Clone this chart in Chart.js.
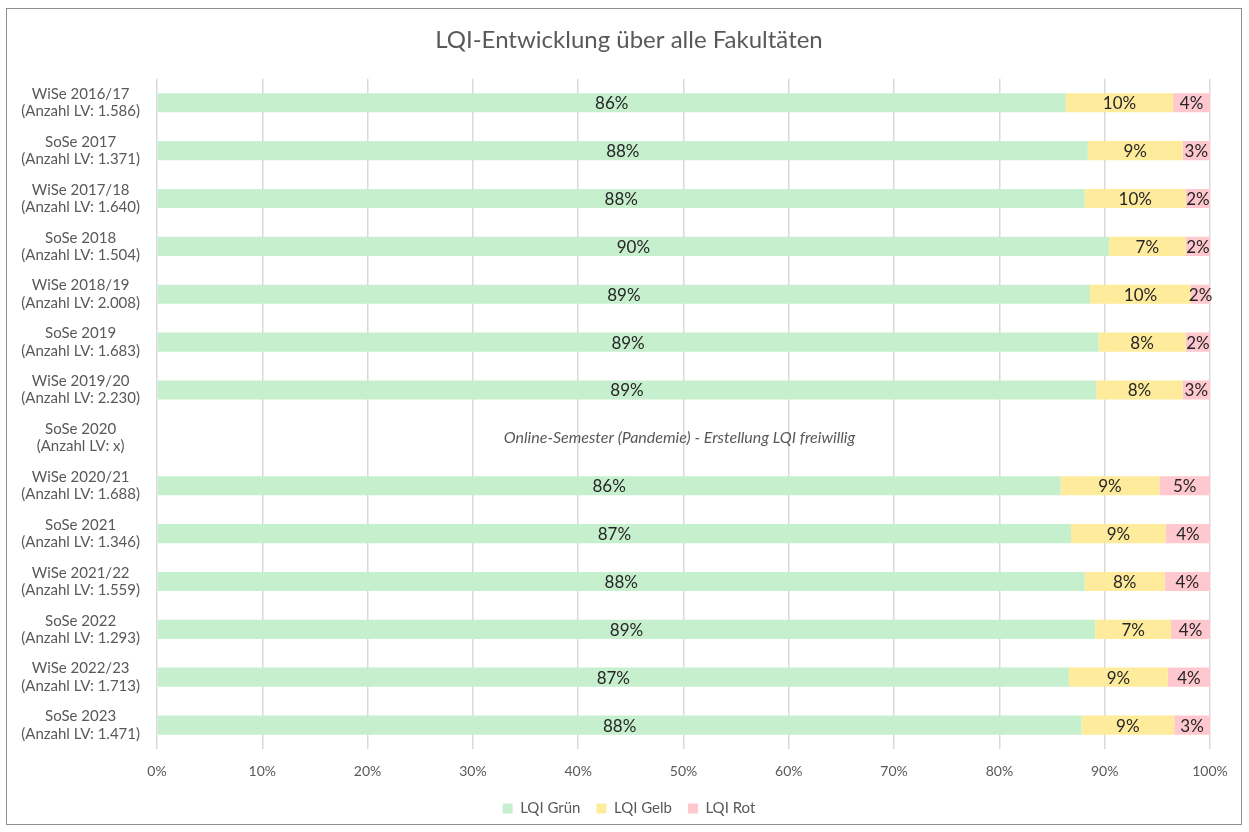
<!DOCTYPE html>
<html>
<head>
<meta charset="utf-8">
<script src="https://cdn.jsdelivr.net/npm/chart.js@4"></script>
<style>
  html, body { margin: 0; padding: 0; background: #fff; }
  #wrap { position: relative; width: 1249px; height: 832px; }
  #frame { position: absolute; left: 6px; top: 8px; width: 1236px; height: 817px; border: 1px solid #8f8f8f; box-sizing: border-box; pointer-events: none; }
  canvas { position: absolute; left: 0; top: 0; }
</style>
</head>
<body>
<div id="wrap">
  <canvas id="lqi-chart" width="1249" height="832"></canvas>
  <div id="frame"></div>
</div>
<script>
// Semester labels (two lines each)
const semesters = [
    ['WiSe 2016/17', '(Anzahl LV: 1.586)'],
    ['SoSe 2017', '(Anzahl LV: 1.371)'],
    ['WiSe 2017/18', '(Anzahl LV: 1.640)'],
    ['SoSe 2018', '(Anzahl LV: 1.504)'],
    ['WiSe 2018/19', '(Anzahl LV: 2.008)'],
    ['SoSe 2019', '(Anzahl LV: 1.683)'],
    ['WiSe 2019/20', '(Anzahl LV: 2.230)'],
    ['SoSe 2020', '(Anzahl LV: x)'],
    ['WiSe 2020/21', '(Anzahl LV: 1.688)'],
    ['SoSe 2021', '(Anzahl LV: 1.346)'],
    ['WiSe 2021/22', '(Anzahl LV: 1.559)'],
    ['SoSe 2022', '(Anzahl LV: 1.293)'],
    ['WiSe 2022/23', '(Anzahl LV: 1.713)'],
    ['SoSe 2023', '(Anzahl LV: 1.471)'],
];

// shares in percent
const gruen = [86.3, 88.4, 88.1, 90.4, 88.6, 89.4, 89.2, null, 85.8, 86.8, 88.1, 89.1, 86.6, 87.8];
const gelb  = [10.2, 9.0, 9.6, 7.3, 9.6, 8.3, 8.2, null, 9.4, 9.0, 7.6, 7.2, 9.4, 8.8];
const rot   = [3.5, 2.6, 2.3, 2.3, 1.8, 2.3, 2.6, null, 4.8, 4.2, 4.3, 3.7, 4.0, 3.4];

const xTicks = [0, 10, 20, 30, 40, 50, 60, 70, 80, 90, 100];

const pandemieIndex = 7;
const pandemieText = 'Online-Semester (Pandemie) - Erstellung LQI freiwillig';

const FONT = 'Lato, "Open Sans", sans-serif';
const GREY = '#595959';

// value labels in the middle of every bar piece + the note for SoSe 2020
const barLabels = {
    id: 'barLabels',
    afterDatasetsDraw(chart) {
        const ctx = chart.ctx;
        ctx.save();
        ctx.font = '17px ' + FONT;
        ctx.fillStyle = '#262626';
        ctx.textAlign = 'center';
        ctx.textBaseline = 'middle';
        chart.data.datasets.forEach((ds, i) => {
            chart.getDatasetMeta(i).data.forEach((bar, j) => {
                const v = ds.data[j];
                if (v == null) return;
                ctx.fillText(Math.round(v) + '%', (bar.x + bar.base) / 2, bar.y + 1);
            });
        });

        const area = chart.chartArea;
        const y = chart.scales.y.getPixelForValue(pandemieIndex);
        ctx.font = 'italic 16px ' + FONT;
        ctx.fillStyle = GREY;
        ctx.fillText(pandemieText, (area.left + area.right) / 2 - 4, y);
        ctx.restore();
    }
};

new Chart(document.getElementById('lqi-chart'), {
    type: 'bar',
    data: {
        labels: semesters,
        datasets: [
            { label: 'LQI Grün', data: gruen, backgroundColor: '#C6EFCE' },
            { label: 'LQI Gelb', data: gelb, backgroundColor: '#FFEB9C' },
            { label: 'LQI Rot', data: rot, backgroundColor: '#FFC7CE' },
        ],
    },
    options: {
        indexAxis: 'y',
        responsive: false,
        animation: false,
        barPercentage: 1,
        categoryPercentage: 0.4,
        layout: {
            padding: { top: 0, right: 0, bottom: 6, left: 9 },
        },
        scales: {
            x: {
                stacked: true,
                min: 0,
                max: 100,
                afterBuildTicks(scale) {
                    scale.ticks = xTicks.map(v => ({ value: v }));
                },
                afterFit(scale) {
                    scale.height = 36;
                },
                grid: { color: '#d9d9d9', lineWidth: 1.5, drawTicks: false },
                border: { display: false },
                ticks: {
                    padding: 14,
                    color: GREY,
                    font: { family: FONT, size: 14 },
                    callback: v => v + '%',
                },
            },
            y: {
                stacked: true,
                afterFit(scale) {
                    scale.width = 148;
                },
                grid: { display: false, drawTicks: false },
                border: { display: false },
                ticks: {
                    crossAlign: 'center',
                    padding: 17,
                    color: GREY,
                    font: { family: FONT, size: 15, lineHeight: 1.15 },
                },
            },
            // empty axis on the right, only keeps the gap next to 100%
            yRight: {
                axis: 'y',
                type: 'category',
                position: 'right',
                afterFit(scale) {
                    scale.width = 39;
                },
                grid: { display: false, drawTicks: false },
                border: { display: false },
                ticks: { display: false },
            },
        },
        plugins: {
            title: {
                display: true,
                text: 'LQI-Entwicklung über alle Fakultäten',
                color: GREY,
                font: { family: FONT, size: 24, weight: 'normal', lineHeight: 1.2 },
                padding: { top: 26, bottom: 24 },
            },
            legend: {
                position: 'bottom',
                labels: {
                    boxWidth: 10,
                    boxHeight: 10,
                    padding: 16,
                    color: GREY,
                    font: { family: FONT, size: 15 },
                },
            },
            tooltip: { enabled: false },
        },
    },
    plugins: [barLabels],
});
</script>
</body>
</html>
